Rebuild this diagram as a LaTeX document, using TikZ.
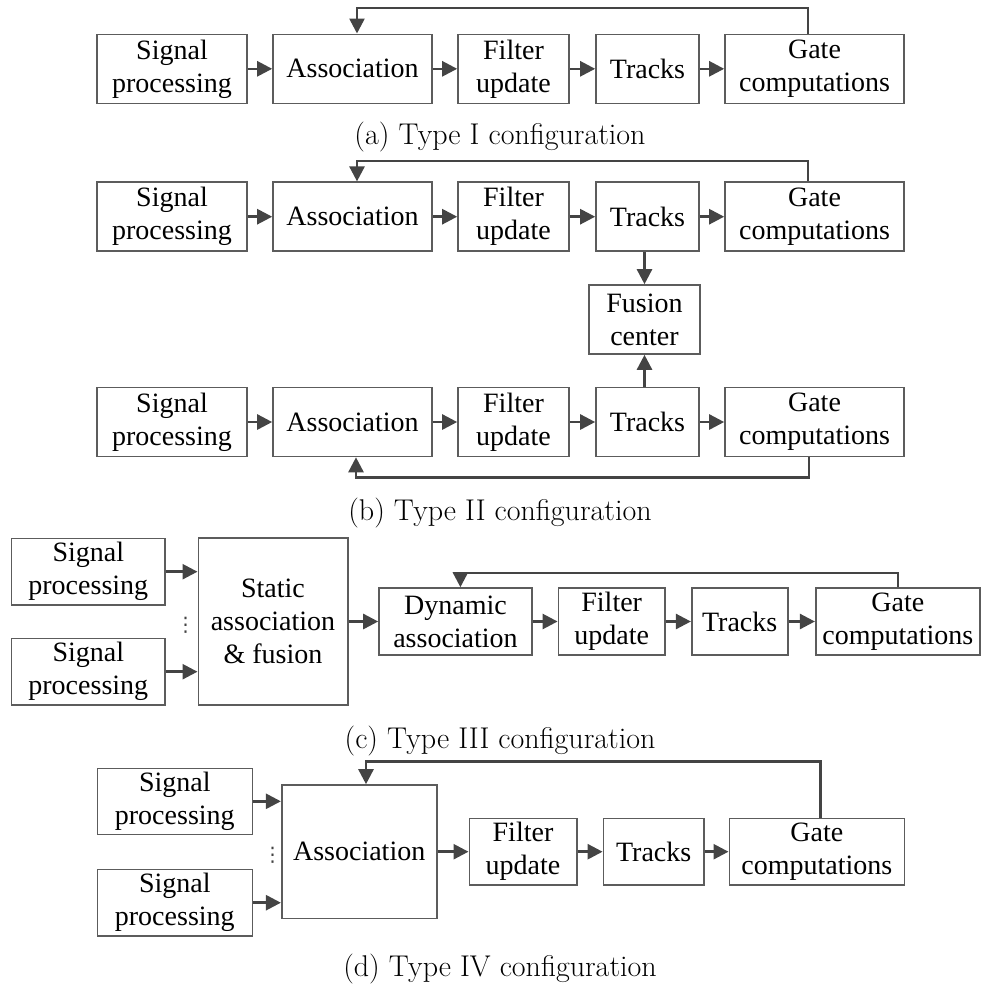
\documentclass[tikz,border=0pt]{standalone}
\usepackage{fontspec}
\newfontfamily\boxfont{Liberation Serif}
\newfontfamily\symfont{DejaVu Sans}
\usetikzlibrary{arrows.meta,calc}
\definecolor{boxgray}{HTML}{5C5C5C}
\definecolor{arrgray}{HTML}{444444}
\begin{document}
\begin{tikzpicture}[
       x = 0.5pt, y = -0.5pt,
     blk/.style = {draw=boxgray, line width=0.8pt, inner sep=0pt, align=center,
                   font=\boxfont\fontsize{14}{16.5}\selectfont},
     arr/.style = {draw=arrgray, line width=1.3pt, -{Triangle[length=7.5pt,width=7.5pt]}},
    capt/.style = {anchor=base, font=\fontsize{15}{17}\selectfont},
    dots/.style = {inner sep=0pt, text=arrgray, font=\symfont\fontsize{10}{10}\selectfont}
                    ]
\useasboundingbox (0,0) rectangle (983,987);

% (a) Type I
\node[blk, minimum width=75pt,   minimum height=34.5pt] (sigA)  at (172,68.8)   {Signal\\processing};
\node[blk, minimum width=79.5pt, minimum height=34.5pt] (assA)  at (352.5,68.8) {Association};
\node[blk, minimum width=55.5pt, minimum height=34.5pt] (filA)  at (513.5,68.8) {Filter\\update};
\node[blk, minimum width=51.5pt, minimum height=34.5pt] (trkA)  at (647.5,68.8) {Tracks};
\node[blk, minimum width=89.5pt, minimum height=34.5pt] (gateA) at (814.5,68.8) {Gate\\computations};
\coordinate (topA) at (0,8);
\node[capt] (capA) at (500,144) {(a) Type I configuration};

\draw[arr] (sigA) -- (assA);
\draw[arr] (assA) -- (filA);
\draw[arr] (filA) -- (trkA);
\draw[arr] (trkA) -- (gateA);
\draw[arr] ([xshift=-3.25pt]gateA.north) -- ([xshift=-3.25pt]gateA.north |- topA) -| ([xshift=2.25pt]assA.north);

% (b) Type II
\node[blk, minimum width=75pt,   minimum height=34.5pt] (sigB1)  at (172,216.7)   {Signal\\processing};
\node[blk, minimum width=79.5pt, minimum height=34.5pt] (assB1)  at (352.5,216.7) {Association};
\node[blk, minimum width=55.5pt, minimum height=34.5pt] (filB1)  at (513.5,216.7) {Filter\\update};
\node[blk, minimum width=51.5pt, minimum height=34.5pt] (trkB1)  at (647.5,216.7) {Tracks};
\node[blk, minimum width=89.5pt, minimum height=34.5pt] (gateB1) at (814.5,216.7) {Gate\\computations};
\node[blk, minimum width=55.5pt, minimum height=34.5pt] (fusB)   at (644.5,319.5) {Fusion\\center};
\node[blk, minimum width=75pt,   minimum height=34.5pt] (sigB2)  at (172,422)     {Signal\\processing};
\node[blk, minimum width=79.5pt, minimum height=34.5pt] (assB2)  at (352.5,422)   {Association};
\node[blk, minimum width=55.5pt, minimum height=34.5pt] (filB2)  at (513.5,422)   {Filter\\update};
\node[blk, minimum width=51.5pt, minimum height=34.5pt] (trkB2)  at (647.5,422)   {Tracks};
\node[blk, minimum width=89.5pt, minimum height=34.5pt] (gateB2) at (814.5,422)   {Gate\\computations};
\coordinate (topB) at (0,161);
\coordinate (botB) at (0,477.3);
\node[capt] (capB) at (500,520) {(b) Type II configuration};

\draw[arr] (sigB1) -- (assB1);
\draw[arr] (assB1) -- (filB1);
\draw[arr] (filB1) -- (trkB1);
\draw[arr] (trkB1) -- (gateB1);
\draw[arr] ([xshift=-3.25pt]gateB1.north) -- ([xshift=-3.25pt]gateB1.north |- topB) -| ([xshift=2.25pt]assB1.north);
\draw[arr] (trkB1.south -| fusB.north) -- (fusB.north);
\draw[arr] (trkB2.north -| fusB.south) -- (fusB.south);
\draw[arr] (sigB2) -- (assB2);
\draw[arr] (assB2) -- (filB2);
\draw[arr] (filB2) -- (trkB2);
\draw[arr] (trkB2) -- (gateB2);
\draw[arr] ([xshift=-2.75pt]gateB2.south) -- ([xshift=-2.75pt]gateB2.south |- botB) -| ([xshift=1.75pt]assB2.south);

% (c) Type III
\node[blk, minimum width=76.7pt, minimum height=33.4pt] (sigC1)  at (88.3,571.7)  {Signal\\processing};
\node[blk, minimum width=76.7pt, minimum height=33.4pt] (sigC2)  at (88.3,671.7)  {Signal\\processing};
\node[dots] (dotsC) at (185.7,625) {⋮};
\node[blk, minimum width=74.7pt, minimum height=83.3pt] (statC)  at (273,621.5)   {Static\\association\\\& fusion};
\node[blk, minimum width=76.5pt, minimum height=33.5pt] (dynC)   at (455.5,621.5) {Dynamic\\association};
\node[blk, minimum width=53.3pt, minimum height=33.5pt] (filC)   at (611.7,621.5) {Filter\\update};
\node[blk, minimum width=48pt,   minimum height=33.5pt] (trkC)   at (739.7,621.5) {Tracks};
\node[blk, minimum width=82.2pt, minimum height=33.5pt] (gateC)  at (897.9,621.5) {Gate\\computations};
\coordinate (topC) at (0,573);
\node[capt] (capC) at (500,748) {(c) Type III configuration};

\draw[arr] (sigC1) -- (sigC1 -| statC.west);
\draw[arr] (sigC2) -- (sigC2 -| statC.west);
\draw[arr] (statC) -- (dynC);
\draw[arr] (dynC) -- (filC);
\draw[arr] (filC) -- (trkC);
\draw[arr] (trkC) -- (gateC);
\draw[arr] (gateC.north) -- (gateC.north |- topC) -| ([xshift=2.45pt]dynC.north);

% (d) Type IV
\node[blk, minimum width=77.5pt, minimum height=33pt]   (sigD1)  at (174.8,801.3) {Signal\\processing};
\node[blk, minimum width=77.5pt, minimum height=33.4pt] (sigD2)  at (174.8,902.7) {Signal\\processing};
\node[dots] (dotsD) at (272.7,855) {⋮};
\node[blk, minimum width=77.5pt, minimum height=66.7pt] (assD)   at (359.2,851.7) {Association};
\node[blk, minimum width=53.7pt, minimum height=33.4pt] (filD)   at (523,851.7)   {Filter\\update};
\node[blk, minimum width=50.3pt, minimum height=33.4pt] (trkD)   at (653.7,851.7) {Tracks};
\node[blk, minimum width=87.5pt, minimum height=33.4pt] (gateD)  at (816.8,851.7) {Gate\\computations};
\coordinate (topD) at (0,761.7);
\node[capt] (capD) at (500,976) {(d) Type IV configuration};

\draw[arr] (sigD1) -- (sigD1 -| assD.west);
\draw[arr] (sigD2) -- (sigD2 -| assD.west);
\draw[arr] (assD) -- (filD);
\draw[arr] (filD) -- (trkD);
\draw[arr] (trkD) -- (gateD);
\draw[arr] ([xshift=1.95pt]gateD.north) -- ([xshift=1.95pt]gateD.north |- topD) -| ([xshift=3.4pt]assD.north);

\end{tikzpicture}
\end{document}
